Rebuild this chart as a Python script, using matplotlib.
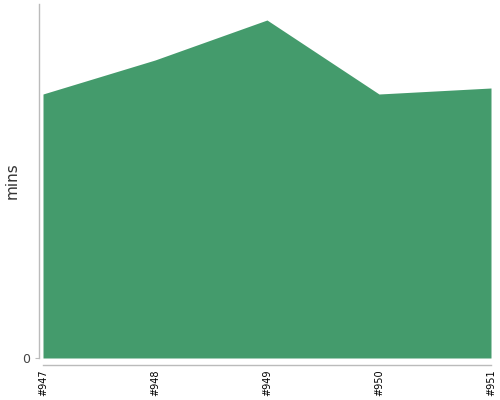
import matplotlib
matplotlib.use("Agg")
import matplotlib.pyplot as plt

builds = ["#947", "#948", "#949", "#950", "#951"]
mins = [26.4, 29.8, 33.8, 26.4, 27.0]
y_max = 35.4

fig = plt.figure(figsize=(5, 4), dpi=100)
ax = fig.add_axes([0.086, 0.105, 0.896, 0.885])
x = list(range(len(builds)))
ax.fill_between(x, 0, mins, color="#449b6c", linewidth=0)
ax.set_xlim(0, len(builds) - 1)
ax.set_ylim(0, y_max)

for s in ["top", "right"]:
    ax.spines[s].set_visible(False)
ax.spines["left"].set_position(("outward", 3))
ax.spines["bottom"].set_position(("outward", 5))
for s in ["left", "bottom"]:
    ax.spines[s].set_color("#bbbbbb")
    ax.spines[s].set_linewidth(1)

ax.set_xticks(x)
ax.set_xticklabels(builds, rotation=90, fontsize=7, color="black")
ax.set_yticks([0])
ax.set_yticklabels(["0"], fontsize=9, color="#444444")
ax.tick_params(axis="x", length=0, pad=3)
ax.tick_params(axis="y", length=3, color="#bbbbbb", pad=3)
ax.set_ylabel("mins", fontsize=11, color="#333333")
ax.yaxis.set_label_coords(-0.052, 0.5)

fig.savefig("out.png", dpi=100)
